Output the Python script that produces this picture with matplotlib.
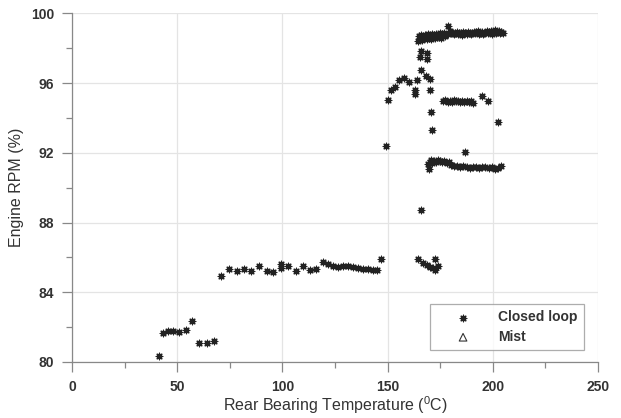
import matplotlib
matplotlib.use("Agg")
import matplotlib.pyplot as plt
from matplotlib.ticker import MultipleLocator

plt.rcParams['font.family'] = ['Liberation Sans', 'DejaVu Sans']

# Closed loop data: rear bearing temperature (C) and engine RPM (%)
low_T = [41.5, 43.4, 45.8, 48.2, 51.0, 54.0, 57.0, 60.5, 64.0, 67.5]
low_R = [80.36, 81.67, 81.79, 81.75, 81.71, 81.83, 82.38, 81.11, 81.11, 81.23]

mid_T = [70.7, 74.5, 78.3, 81.6, 85.2, 88.7, 92.5, 95.7, 99.2, 99.5, 102.8, 106.5,
         110.0, 113.3, 116.0, 119.2, 121.8, 124.2, 126.6, 129.0, 131.4, 133.7,
         136.0, 138.5, 140.8, 143.0, 145.0, 146.7]
mid_R = [84.92, 85.32, 85.20, 85.32, 85.20, 85.51, 85.20, 85.17, 85.63, 85.40, 85.51, 85.20,
         85.51, 85.28, 85.32, 85.71, 85.60, 85.51, 85.44, 85.48, 85.51, 85.44,
         85.40, 85.36, 85.34, 85.30, 85.30, 85.89]

lowc_T = [164.6, 166.9, 168.9, 170.2, 171.4, 172.5, 172.5, 174.1]
lowc_R = [85.89, 85.66, 85.57, 85.47, 85.38, 85.89, 85.28, 85.51]

iso_T = [149.1, 165.7, 171.1, 170.8, 202.5, 186.9]
iso_R = [92.39, 88.70, 93.31, 94.37, 93.79, 92.03]

arc_T = [150.0, 151.5, 153.5, 155.6, 157.8, 160.3, 163.0, 163.0, 163.8, 165.7,
         168.3, 170.2, 170.2, 165.4, 165.7, 168.6, 168.9]
arc_R = [95.04, 95.58, 95.77, 96.20, 96.29, 96.04, 95.58, 95.39, 96.16, 96.77,
         96.43, 96.24, 95.58, 97.50, 97.83, 97.73, 97.39]

top_T = [164.5, 165.5, 166.5, 167.5, 168.5, 169.5, 170.5, 171.5, 172.5, 173.5,
         174.5, 175.5, 176.5, 177.5, 178.5, 178.9, 180.0, 181.0, 182.0, 183.0,
         184.0, 185.0, 186.0, 187.0, 188.0, 189.0, 190.0, 191.0, 192.0, 193.0,
         194.0, 195.0, 196.0, 197.0, 198.0, 199.0, 200.0, 201.0, 202.0, 203.0,
         204.0, 205.0,
         165.0, 166.0, 167.0, 168.0, 169.0, 170.0, 171.0, 172.0, 173.0, 174.0,
         175.0, 176.0, 177.0, 179.5, 181.5, 183.5, 185.5, 187.5, 189.5, 191.5,
         193.5, 195.5, 197.5, 199.5, 201.5, 203.5]
top_R = [98.40, 98.55, 98.50, 98.62, 98.55, 98.60, 98.52, 98.68, 98.58, 98.62,
         98.66, 98.60, 98.72, 98.70, 98.80, 99.28, 98.88, 98.90, 98.86, 98.92,
         98.90, 98.85, 98.92, 98.88, 98.95, 98.90, 98.85, 98.96, 98.92, 98.98,
         98.90, 98.94, 98.88, 99.00, 98.92, 98.98, 98.94, 99.02, 98.96, 99.00,
         98.95, 98.90,
         98.70, 98.78, 98.66, 98.74, 98.80, 98.72, 98.82, 98.76, 98.84, 98.78,
         98.86, 98.80, 98.90, 98.98, 98.82, 98.80, 98.78, 98.84, 98.80, 98.86,
         98.84, 98.80, 98.86, 98.82, 98.88, 98.86]

b95_T = [176.5, 177.5, 178.5, 179.5, 180.5, 181.5, 182.5, 183.5, 184.5, 185.5,
         186.5, 187.5, 188.5, 189.5, 190.6, 194.7, 197.9]
b95_R = [94.95, 95.02, 94.92, 95.00, 94.94, 95.02, 94.96, 94.98, 94.92, 95.00,
         94.94, 94.98, 94.90, 94.95, 94.86, 95.24, 94.99]

b91_T = [169.0, 170.0, 171.0, 172.0, 173.0, 174.0, 175.0, 176.0, 177.0, 178.0,
         179.0, 180.0, 181.5, 183.0, 184.5, 186.0, 187.5, 189.0, 190.5, 192.0,
         193.5, 195.0, 196.5, 198.0, 199.5, 201.0, 202.5, 204.0, 169.5, 170.5]
b91_R = [91.35, 91.50, 91.42, 91.55, 91.48, 91.60, 91.52, 91.45, 91.55, 91.40,
         91.48, 91.30, 91.22, 91.25, 91.18, 91.22, 91.20, 91.15, 91.20, 91.18,
         91.15, 91.20, 91.16, 91.12, 91.18, 91.10, 91.15, 91.22, 91.10, 91.58]

closed_T = low_T + mid_T + lowc_T + iso_T + arc_T + top_T + b95_T + b91_T
closed_R = low_R + mid_R + lowc_R + iso_R + arc_R + top_R + b95_R + b91_R

mist_T = []
mist_R = []

x_ticks = [0, 50, 100, 150, 200, 250]
y_ticks = [80, 84, 88, 92, 96, 100]

fig = plt.figure(figsize=(6.21, 4.18), dpi=100)
ax = fig.add_axes([0.116, 0.134, 0.847, 0.834])

ax.scatter(closed_T, closed_R, marker=(8, 2, 0), s=22, color='#222222',
           linewidths=0.9, label='Closed loop', zorder=3)
ax.scatter(mist_T, mist_R, marker='^', s=30, facecolors='none',
           edgecolors='#333333', linewidths=0.8, label='Mist', zorder=3)

ax.set_xlim(0, 250)
ax.set_ylim(80, 100)
ax.set_xticks(x_ticks)
ax.set_yticks(y_ticks)
ax.xaxis.set_minor_locator(MultipleLocator(25))
ax.yaxis.set_minor_locator(MultipleLocator(2))

ax.grid(True, which='major', color='#e4e4e4', linewidth=0.9, zorder=0)
ax.set_axisbelow(True)
for s in ['top', 'right']:
    ax.spines[s].set_visible(False)
for s in ['left', 'bottom']:
    ax.spines[s].set_color('#888888')
    ax.spines[s].set_linewidth(0.9)

ax.tick_params(axis='both', which='major', direction='out', length=7, width=0.9,
               color='#888888', labelsize=10, labelcolor='#333333', pad=6)
ax.tick_params(axis='both', which='minor', direction='out', length=4, width=0.9,
               color='#888888')
for lab in ax.get_xticklabels() + ax.get_yticklabels():
    lab.set_fontweight('bold')

ax.set_xlabel(r'Rear Bearing Temperature ($\mathregular{^{0}}$C)', fontsize=11.5,
              color='#333333', labelpad=0)
ax.set_ylabel('Engine RPM (%)', fontsize=11.5, color='#333333', labelpad=5)

leg = ax.legend(loc='lower right', bbox_to_anchor=(0.973, 0.034), borderaxespad=0,
                frameon=True, fancybox=False, edgecolor='#999999',
                handletextpad=0.58, borderpad=0.45, labelspacing=0.4,
                handlelength=3.9, prop={'weight': 'bold', 'size': 10})
leg.get_frame().set_linewidth(0.9)
for t in leg.get_texts():
    t.set_color('#333333')

fig.savefig('out.png', dpi=100)
